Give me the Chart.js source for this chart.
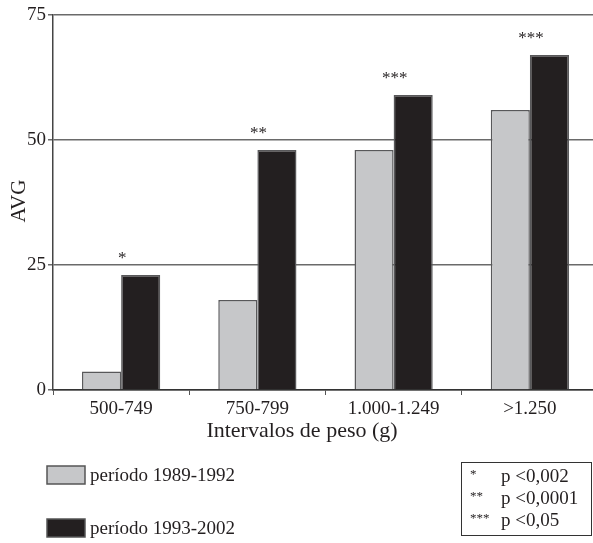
<!DOCTYPE html>
<html>
<head>
<meta charset="utf-8">
<script src="https://cdn.jsdelivr.net/npm/chart.js@4"></script>
<style>
  html, body { margin: 0; padding: 0; background: #fff; overflow: hidden; }
  #wrap { position: relative; width: 600px; height: 543px; }
</style>
</head>
<body>
<div id="wrap"><canvas id="chart" width="600" height="543"></canvas></div>
<script>
var categories = ["500-749", "750-799", "1.000-1.249", ">1.250"];
var periodo1 = [3.7, 18, 48, 56];
var periodo2 = [23, 48, 59, 67];
var seriesNames = ["período 1989-1992", "período 1993-2002"];
var stars = ["*", "**", "***", "***"];
var yTicks = [0, 25, 50, 75];
var signif = [["*", "p <0,002"], ["**", "p <0,0001"], ["***", "p <0,05"]];
var yTitle = "AVG";
var xTitle = "Intervalos de peso (g)";

var serif = '"Liberation Serif", "DejaVu Serif", serif';
var gray = "#c6c7c9";
var black = "#231f20";

// titles, stars over bars and the two legends
var overlay = {
    id: "overlay",
    afterDraw: function (chart) {
        var ctx = chart.ctx;
        var xs = chart.scales.x;
        var meta = chart.getDatasetMeta(1);
        ctx.save();
        ctx.fillStyle = black;
        ctx.textBaseline = "alphabetic";

        ctx.font = "17px " + serif;
        ctx.textAlign = "center";
        stars.forEach(function (s, i) {
            ctx.fillText(s, xs.getPixelForValue(i) + 1, meta.data[i].y - 12);
        });

        ctx.font = "22px " + serif;
        ctx.fillText(xTitle, 302, 437);

        ctx.save();
        ctx.translate(25, 201);
        ctx.rotate(-Math.PI / 2);
        ctx.font = "21px " + serif;
        ctx.fillText(yTitle, 0, 0);
        ctx.restore();

        // series legend
        ctx.textAlign = "left";
        ctx.font = "19px " + serif;
        ctx.lineWidth = 1.5;
        ctx.strokeStyle = "#555";
        [[gray, 466], [black, 519]].forEach(function (b, i) {
            ctx.fillStyle = b[0];
            ctx.fillRect(47, b[1], 38, 18);
            ctx.strokeRect(47, b[1], 38, 18);
            ctx.fillStyle = black;
            ctx.fillText(seriesNames[i], 90, b[1] + 15);
        });

        // significance box
        ctx.lineWidth = 1;
        ctx.strokeStyle = "#333";
        ctx.strokeRect(461.5, 462.5, 130, 73);
        signif.forEach(function (row, i) {
            var base = 482 + i * 22;
            ctx.font = "13px " + serif;
            ctx.fillText(row[0], 470, base - 4);
            ctx.font = "19px " + serif;
            ctx.fillText(row[1], 501, base);
        });
        ctx.restore();
    }
};

new Chart(document.getElementById("chart"), {
    type: "bar",
    data: {
        labels: categories,
        datasets: [
            {
                label: seriesNames[0],
                data: periodo1,
                backgroundColor: gray,
                borderColor: "#58585a",
                borderWidth: 1.5
            },
            {
                label: seriesNames[1],
                data: periodo2,
                backgroundColor: black,
                borderColor: "#58585a",
                borderWidth: 1.5
            }
        ]
    },
    options: {
        responsive: false,
        animation: false,
        categoryPercentage: 0.574,
        barPercentage: 1.0,
        layout: { padding: { top: 15, right: 2, bottom: 0, left: 0 } },
        plugins: {
            legend: { display: false },
            tooltip: { enabled: false }
        },
        scales: {
            x: {
                offset: true,
                grid: {
                    display: true,
                    drawOnChartArea: false,
                    offset: true,
                    tickLength: 5,
                    color: "#555"
                },
                border: { color: "#333", width: 1.5 },
                ticks: {
                    color: black,
                    padding: 3,
                    font: { family: serif, size: 19 }
                },
                afterFit: function (scale) { scale.height = 153; }
            },
            y: {
                min: 0,
                max: 75,
                afterBuildTicks: function (scale) {
                    scale.ticks = yTicks.map(function (v) { return { value: v }; });
                },
                grid: {
                    color: "#6a6a6a",
                    lineWidth: 1.5,
                    tickLength: 5
                },
                border: { color: "#444", width: 1.5 },
                ticks: {
                    color: black,
                    padding: 2,
                    font: { family: serif, size: 19 }
                },
                afterFit: function (scale) { scale.width = 53; }
            }
        }
    },
    plugins: [overlay]
});
</script>
</body>
</html>
